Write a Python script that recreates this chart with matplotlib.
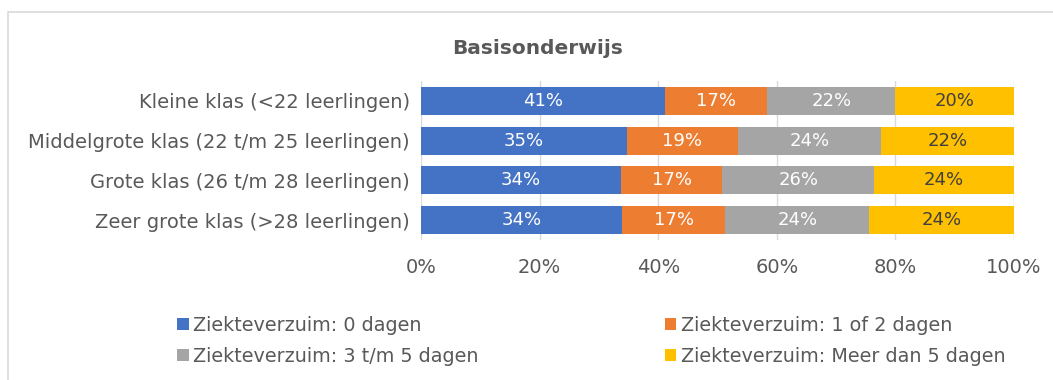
import matplotlib
matplotlib.use("Agg")
import matplotlib.pyplot as plt
import numpy as np
from matplotlib.patches import Rectangle, Patch

plt.rcParams['font.family'] = ['DejaVu Sans']

klassen = ["Kleine klas (<22 leerlingen)",
           "Middelgrote klas (22 t/m 25 leerlingen)",
           "Grote klas (26 t/m 28 leerlingen)",
           "Zeer grote klas (>28 leerlingen)"]
reeksen = ["Ziekteverzuim: 0 dagen",
           "Ziekteverzuim: 1 of 2 dagen",
           "Ziekteverzuim: 3 t/m 5 dagen",
           "Ziekteverzuim: Meer dan 5 dagen"]
# aandeel per klasgrootte, in procenten
dagen_0 = [41.2, 34.7, 33.7, 33.9]
dagen_1_2 = [17.2, 18.7, 17.1, 17.4]
dagen_3_5 = [21.6, 24.2, 25.6, 24.3]
dagen_meer = [20.0, 22.4, 23.6, 24.4]

kleuren = ["#4472C4", "#ED7D31", "#A5A5A5", "#FFC000"]
tekstkleur = ["white", "white", "white", "#404040"]
grijs = "#595959"

fig = plt.figure(figsize=(10.53, 3.80), dpi=100)
ax = fig.add_axes([421 / 1053, 1 - 240 / 380, 593 / 1053, 159 / 380])

# kader om de grafiek
fig.patches.append(Rectangle((8 / 1053, -0.2), 1.1, 1.2 - 12 / 380,
                             transform=fig.transFigure, fill=False,
                             edgecolor="#D9D9D9", linewidth=1.2))

y = np.arange(len(klassen))
links = np.zeros(len(klassen))
handles = []
for waarden, kleur, tk, naam in zip([dagen_0, dagen_1_2, dagen_3_5, dagen_meer],
                                    kleuren, tekstkleur, reeksen):
    waarden = np.array(waarden)
    ax.barh(y, waarden, left=links, height=0.7, color=kleur, zorder=3)
    for yi, l, w in zip(y, links, waarden):
        ax.text(l + w / 2, yi, f"{w:.0f}%", ha="center", va="center",
                color=tk, fontsize=13, zorder=4)
    links += waarden
    handles.append(Patch(facecolor=kleur, label=naam))

ax.set_xlim(0, 100)
ax.set_ylim(3.5, -0.5)
ax.set_yticks(y)
ax.set_yticklabels(klassen, fontsize=14, color=grijs)
ax.set_xticks(np.arange(0, 101, 20))
ax.set_xticklabels([f"{v}%" for v in range(0, 101, 20)], fontsize=14, color=grijs)
ax.tick_params(length=0)
ax.tick_params(axis="x", pad=13)
ax.tick_params(axis="y", pad=8)
ax.grid(axis="x", color="#D9D9D9", linewidth=1, zorder=0)
for s in ax.spines.values():
    s.set_visible(False)

fig.text(538 / 1053, 1 - 48 / 380, "Basisonderwijs", ha="center", va="center",
         fontsize=14.5, fontweight="bold", color=grijs)

volgorde = [0, 2, 1, 3]
leg = fig.legend([handles[i] for i in volgorde], [reeksen[i] for i in volgorde],
                 ncol=2, loc="upper left", bbox_to_anchor=(177 / 1053, 1 - 316 / 380),
                 frameon=False, fontsize=13.8, handlelength=0.6, handleheight=0.6,
                 handletextpad=0.25, columnspacing=9.7, labelspacing=0.6,
                 borderpad=0, borderaxespad=0)
for t in leg.get_texts():
    t.set_color(grijs)

fig.savefig("out.png", dpi=100)
